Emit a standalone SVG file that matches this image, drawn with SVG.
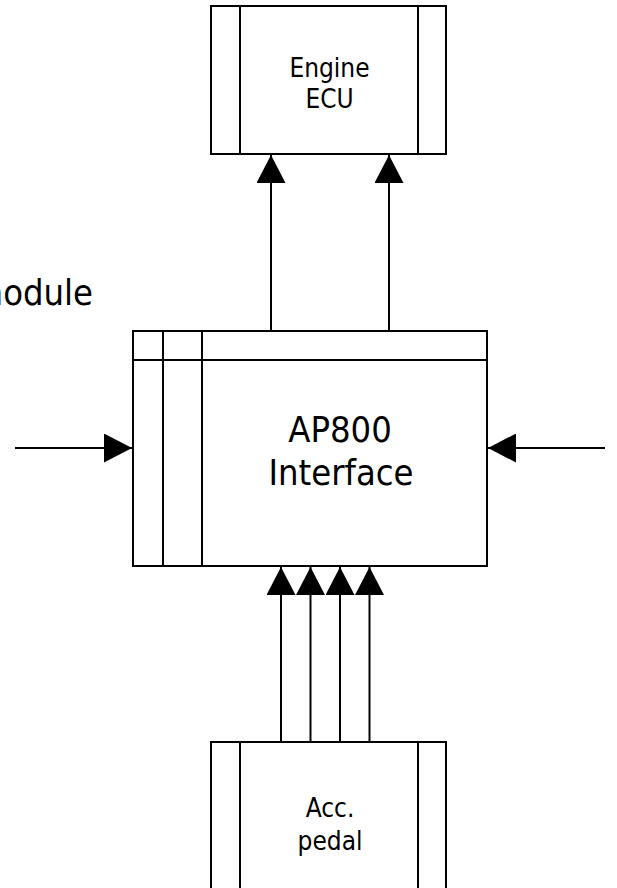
<svg xmlns="http://www.w3.org/2000/svg" width="617" height="888" viewBox="0 0 617 888">
  <defs>
    <style>
      .box { fill: #ffffff; stroke: #000000; stroke-width: 2; }
      .ln { fill: none; stroke: #000000; stroke-width: 2; }
      .big { font-family: "DejaVu Sans Condensed", "DejaVu Sans", sans-serif; font-stretch: condensed; font-size: 36px; fill: #000000; text-anchor: middle; }
      .small { font-family: "DejaVu Sans Condensed", "DejaVu Sans", sans-serif; font-stretch: condensed; font-size: 26px; fill: #000000; text-anchor: middle; }
      .conn { fill: none; stroke: #000000; stroke-width: 2; marker-end: url(#ah); }
    </style>
    <marker id="ah" markerUnits="userSpaceOnUse" viewBox="0 0 28 29" markerWidth="28" markerHeight="29" refX="28" refY="14.5" orient="auto">
      <path d="M0,0 L28,14.5 L0,29 Z" fill="#000000"/>
    </marker>
  </defs>
  <rect width="617" height="888" fill="#ffffff"/>

  <g id="engine-ecu">
    <rect class="box" x="211" y="6" width="235" height="148"/>
    <line class="ln" x1="240" y1="6" x2="240" y2="154"/>
    <line class="ln" x1="418" y1="6" x2="418" y2="154"/>
    <text class="small" x="329.5" y="77">Engine</text>
    <text class="small" x="329.5" y="108">ECU</text>
  </g>

  <g id="ap800-interface">
    <rect class="box" x="133" y="331" width="354" height="235"/>
    <line class="ln" x1="163" y1="331" x2="163" y2="566"/>
    <line class="ln" x1="202" y1="331" x2="202" y2="566"/>
    <line class="ln" x1="133" y1="360" x2="487" y2="360"/>
    <text class="big" x="340" y="442">AP800</text>
    <text class="big" x="341" y="485">Interface</text>
  </g>

  <g id="acc-pedal">
    <rect class="box" x="211" y="742" width="235" height="170"/>
    <line class="ln" x1="240" y1="742" x2="240" y2="900"/>
    <line class="ln" x1="418" y1="742" x2="418" y2="900"/>
    <text class="small" x="330" y="817">Acc.</text>
    <text class="small" x="330" y="850">pedal</text>
  </g>

  <g id="module-label">
    <text class="big" x="93" y="305" style="text-anchor: end;">module</text>
  </g>

  <g id="connectors">
    <line class="conn" x1="271" y1="331" x2="271" y2="155"/>
    <line class="conn" x1="389" y1="331" x2="389" y2="155"/>
    <line class="conn" x1="15" y1="448" x2="132" y2="448"/>
    <line class="conn" x1="605" y1="448" x2="488" y2="448"/>
    <line class="conn" x1="281" y1="742" x2="281" y2="567"/>
    <line class="conn" x1="310.5" y1="742" x2="310.5" y2="567"/>
    <line class="conn" x1="340" y1="742" x2="340" y2="567"/>
    <line class="conn" x1="369.5" y1="742" x2="369.5" y2="567"/>
  </g>
</svg>
